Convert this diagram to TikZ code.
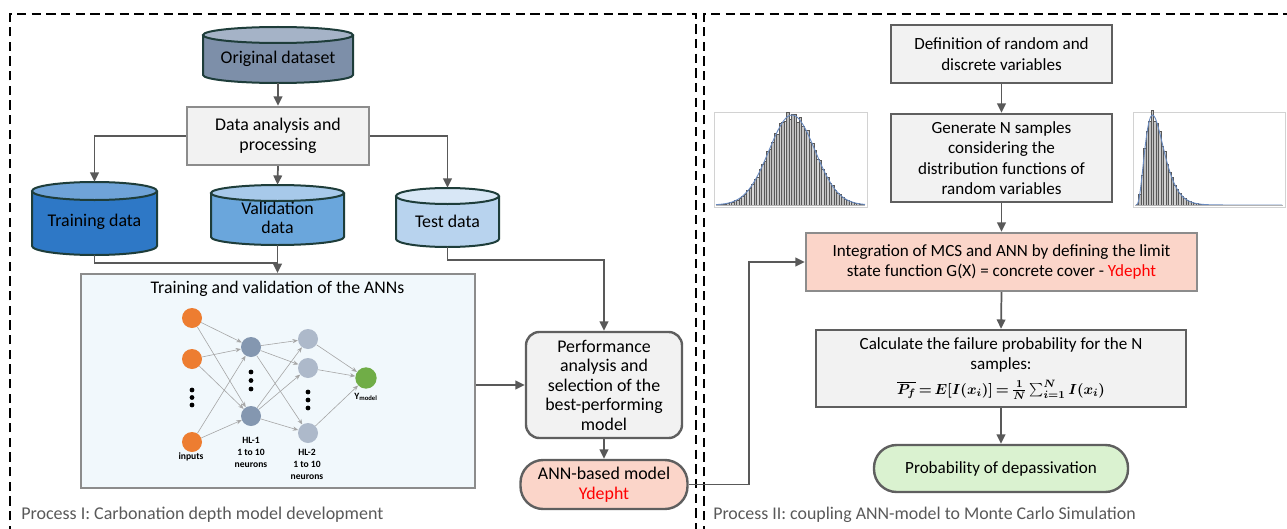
\documentclass[tikz,border=0pt]{standalone}
\usepackage[no-math]{fontspec}
\setmainfont{Carlito}
\usetikzlibrary{arrows.meta,calc}
\definecolor{arrgray}{HTML}{595959}
\definecolor{dkgray}{HTML}{5F5F5F}
\definecolor{ltborder}{HTML}{8C8C8C}
\definecolor{boxfill}{HTML}{F2F2F2}
\definecolor{tboxfill}{HTML}{F1F8FC}
\definecolor{salmon}{HTML}{FBD5C9}
\definecolor{palegreen}{HTML}{DAF2D0}
\definecolor{cylborder}{HTML}{1E3D3A}
\definecolor{origbody}{HTML}{7D8FA9}
\definecolor{origtop}{HTML}{A5B3C7}
\definecolor{trainbody}{HTML}{2E78C6}
\definecolor{traintop}{HTML}{6FA3D8}
\definecolor{validbody}{HTML}{6AA6DC}
\definecolor{validtop}{HTML}{A7C9EA}
\definecolor{testbody}{HTML}{B8D3EE}
\definecolor{testtop}{HTML}{D8E7F6}
\definecolor{inorange}{HTML}{ED7D31}
\definecolor{hlone}{HTML}{8497B0}
\definecolor{hltwo}{HTML}{ADB9CA}
\definecolor{outgreen}{HTML}{70AD47}
\definecolor{labelgray}{HTML}{595959}
\definecolor{curveblue}{HTML}{6A8BC0}
\newcommand\leftfs{\fontsize{13.4}{14.6}\selectfont}
\newcommand\rightfs{\fontsize{12.8}{15.3}\selectfont}
\newcommand\nnfs{\fontsize{7.2}{9}\selectfont\bfseries}
\newcommand\pfformula{\mbox{\fontsize{11.2}{14}\selectfont\thickmuskip=3mu\medmuskip=2mu\boldmath$\overline{P_f}=E[I(x_i)]=\frac{1}{N}\sum_{i=1}^{N}I(x_i)$}}
\newcommand\calctext{Calculate the failure probability for the N\\samples:\\[3pt]\pfformula}
% cylinder: #1 cx, #2 top-ellipse y, #3 bottom-ellipse y, #4 half width, #5 ry, #6 body, #7 top
\newcommand\drawcyl[7]{%
  \fill[#6] (#1-#4,#2) -- (#1-#4,#3) arc[start angle=180,end angle=360,x radius=#4*0.75pt,y radius=#5*0.75pt] -- (#1+#4,#2) -- cycle;
  \draw[cylborder,line width=1.5pt] (#1-#4,#2) -- (#1-#4,#3) arc[start angle=180,end angle=360,x radius=#4*0.75pt,y radius=#5*0.75pt] -- (#1+#4,#2);
  \draw[cylborder,line width=1.5pt,fill=#7] (#1,#2) ellipse[x radius=#4*0.75pt,y radius=#5*0.75pt];
}
\begin{document}
\begin{tikzpicture}[x=0.75pt,y=-0.75pt,
  frame/.style={line width=1.9pt, dash pattern=on 7pt off 4pt},
  arr/.style={draw=arrgray, line width=1.3pt, -{Triangle[length=7pt,width=6.5pt]}},
  ln/.style={draw=arrgray, line width=1.3pt},
  gbox/.style={draw=dkgray, line width=1.8pt, fill=boxfill, align=center, inner sep=0pt, font=\rightfs},
  cylnode/.style={inner sep=0pt},
  cyltext/.style={align=center, font=\leftfs, inner sep=0pt},
  neuron/.style={circle, inner sep=0pt, minimum size=15pt},
  dot/.style={circle, fill=black, inner sep=0pt, minimum size=3.6pt},
  nnedge/.style={draw=gray!70, line width=0.45pt, -{Stealth[length=4pt,width=3.2pt]}},
  nnlabel/.style={align=center, font=\nnfs, inner sep=0pt},
  histbar/.style={draw=gray!70!black, line width=0.2pt},
  histcurve/.style={draw=curveblue, line width=0.7pt},
  histframe/.style={draw=gray!35, line width=0.5pt},
  plabel/.style={anchor=west, text=labelgray, inner sep=0pt}
]
\useasboundingbox (0,0) rectangle (1287,528);

% frames
\draw[frame] (10,535) -- (10,14) -- (696,14) -- (696,535);
\draw[frame] (704,535) -- (704,14) -- (1295,14);

% ---------------- Process I ----------------
\drawcyl{278}{35}{75}{75}{8}{origbody}{origtop}
\node[cylnode, minimum width=112.5pt, minimum height=42pt] (orig) at (278,55) {};
\node[cyltext] (origT) at (278,59) {Original dataset};

\node[gbox, draw=ltborder, font=\leftfs, minimum width=136.5pt, minimum height=43.5pt] (data) at (278,136) {Data analysis and\\processing};

\drawcyl{94.5}{191}{246}{62.5}{9}{trainbody}{traintop}
\node[cylnode, minimum width=93.75pt, minimum height=54.75pt] (train) at (94.5,218.5) {};
\node[cyltext] (trainT) at (94.5,222) {Training data};

\drawcyl{277.5}{193}{237}{66.5}{8}{validbody}{validtop}
\node[cylnode, minimum width=99.75pt, minimum height=45pt] (valid) at (277.5,215) {};
\node[cyltext] (validT) at (277.5,218) {Validation\\data};

\drawcyl{447.5}{196}{239}{51.5}{8}{testbody}{testtop}
\node[cylnode, minimum width=77.25pt, minimum height=44.25pt] (test) at (447.5,217.5) {};
\node[cyltext] (testT) at (447.5,221) {Test data};

\draw[arr] (orig.south) -- (data.north);
\draw[arr] (data.west) -| (train.north);
\draw[arr] (data.south) -- (valid.north);
\draw[arr] (data.east) -| (test.north);

% training box
\node[draw=ltborder, line width=1.5pt, fill=tboxfill, minimum width=295.5pt, minimum height=160.5pt, inner sep=0pt] (tbox) at (277.5,381) {};
\node[font=\fontsize{13.3}{15}\selectfont, inner sep=0pt] (tboxT) at (277.5,289) {Training and validation of the ANNs};

\coordinate (j1) at (277.5,263);
\draw[ln] (train.south) |- (j1);
\draw[arr] (valid.south) -- (tbox.north);

% neural network
\node[neuron, fill=inorange] (in1) at (192,318) {};
\node[neuron, fill=inorange] (in2) at (192,359) {};
\node[neuron, fill=inorange] (in3) at (192,442) {};
\node[neuron, fill=hlone] (h11) at (251,347) {};
\node[neuron, fill=hlone] (h12) at (251,416) {};
\node[neuron, fill=hltwo] (h21) at (308,339) {};
\node[neuron, fill=hltwo] (h22) at (308,368) {};
\node[neuron, fill=hltwo] (h23) at (308,433) {};
\node[neuron, fill=outgreen, minimum size=16pt] (out) at (366,378) {};
\foreach \a in {in1,in2,in3} \foreach \b in {h11,h12} \draw[nnedge] (\a) -- (\b);
\foreach \a in {h11,h12} \foreach \b in {h21,h22,h23} \draw[nnedge] (\a) -- (\b);
\foreach \a in {h21,h22,h23} \draw[nnedge] (\a) -- (out);
\node[dot] (da1) at (192,390) {};
\node[dot] (da2) at (192,397.5) {};
\node[dot] (da3) at (192,405) {};
\node[dot] (db1) at (251,372) {};
\node[dot] (db2) at (251,380.5) {};
\node[dot] (db3) at (251,389) {};
\node[dot] (dc1) at (308,392) {};
\node[dot] (dc2) at (308,400) {};
\node[dot] (dc3) at (308,408) {};
\node[nnlabel] (inL) at (191,457) {inputs};
\node[nnlabel] (h1L) at (251,452) {HL-1\\1 to 10\\neurons};
\node[nnlabel] (h2L) at (307,464) {HL-2\\1 to 10\\neurons};
\node[nnlabel] (outL) at (366,397) {Y\textsubscript{\fontsize{5}{6}\selectfont model}};

% performance & ANN model
\node[gbox, font=\leftfs, rounded corners=10pt, minimum width=117pt, minimum height=79.5pt] (perf) at (604,385) {Performance\\analysis and\\selection of the\\best-performing\\model};
\node[gbox, font=\leftfs, fill=salmon, rounded corners=17pt, minimum width=125.25pt, minimum height=36.75pt] (ann) at (604,484.5) {ANN-based model\\\textcolor{red}{Ydepht}};

\coordinate (j2) at (447.5,260);
\draw[arr] (test.south) -- (j2) -| (perf.north);
\draw[arr] (tbox.east |- perf.west) -- (perf.west);
\draw[arr] (perf.south) -- (ann.north);

\node[plabel, font=\fontsize{13.5}{15}\selectfont] (p1) at (21,515) {Process I: Carbonation depth model development};

% ---------------- Process II ----------------
\node[gbox, minimum width=165.75pt, minimum height=43.5pt] (def) at (1001.5,54) {Definition of random and\\discrete variables};
\node[gbox, minimum width=165.75pt, minimum height=66pt] (gen) at (1001.5,158) {Generate N samples\\considering the\\distribution functions of\\random variables};
\node[gbox, draw=ltborder, fill=salmon, minimum width=293.25pt, minimum height=43.5pt] (integ) at (1001.5,262) {Integration of MCS and ANN by defining the limit\\state function G(X) = concrete cover - \textcolor{red}{Ydepht}};
\node[gbox, minimum width=277.5pt, minimum height=57.75pt] (calc) at (1001,368.5) {\calctext};
\node[gbox, fill=palegreen, rounded corners=17pt, minimum width=190.5pt, minimum height=35.25pt] (prob) at (1001,468.5) {Probability of depassivation};

\draw[arr] (def.south) -- (gen.north);
\draw[arr] (gen.south) -- (integ.north);
\draw[arr] (integ.south) -- (calc.north);
\draw[arr] (calc.south) -- (prob.north);
\draw[arr] (ann.east) -- ++(60,0) |- (integ.west);

\node[plabel, font=\fontsize{13.4}{15}\selectfont] (p2) at (713,515) {Process II: coupling ANN-model to Monte Carlo Simulation};

% histograms
\draw[histframe] (714,112) rectangle (867,207);
\foreach \i in {0,...,57} {
  \pgfmathsetmacro\xa{719+\i*2.5}
  \pgfmathsetmacro\hh{90*exp(-((\xa+1.25-792)^2)/1058)*(1+0.05*sin(\i*137))}
  \pgfmathtruncatemacro\gv{30+25*abs(sin(\i*97))}
  \fill[histbar, fill=gray!\gv] (\xa,205) rectangle ({\xa+2.5},{205-\hh});
}
\draw[histcurve] plot[domain=716:865, samples=80, smooth] (\x,{205-90*exp(-((\x-792)^2)/1058)});
\draw[gray!60, line width=0.4pt] (716,205) -- (865,205);

\draw[histframe] (1133,112) rectangle (1285,207);
\foreach \i in {0,...,57} {
  \pgfmathsetmacro\xa{1136+\i*2.5}
  \pgfmathsetmacro\uu{(\xa+1.25-1136)/5.5}
  \pgfmathsetmacro\hh{90*(\uu*exp(-\uu/3))^3/1.3443*(1+0.05*sin(\i*137))}
  \pgfmathtruncatemacro\gv{30+25*abs(sin(\i*97))}
  \fill[histbar, fill=gray!\gv] (\xa,205) rectangle ({\xa+2.5},{205-\hh});
}
\draw[histcurve] plot[domain=1136:1282, samples=100, smooth] (\x,{205-90*(((\x-1136)/5.5)*exp(-((\x-1136)/5.5)/3))^3/1.3443});
\draw[gray!60, line width=0.4pt] (1135,205) -- (1283,205);
\end{tikzpicture}
\end{document}
